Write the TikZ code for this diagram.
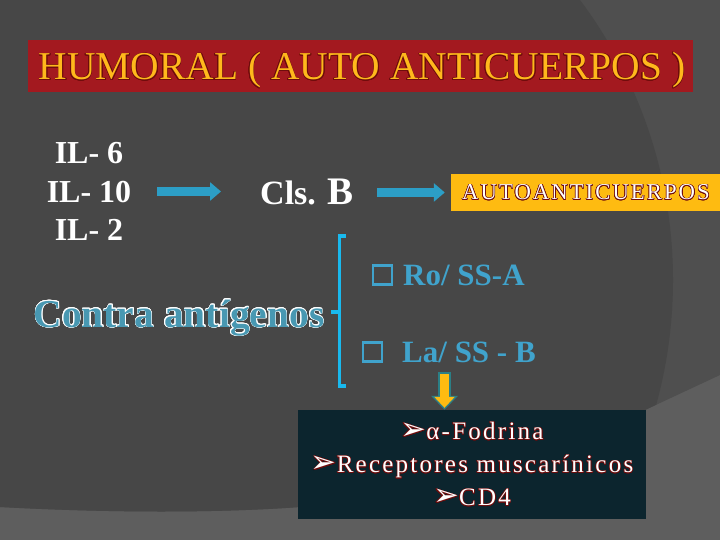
\documentclass[tikz,border=0pt]{standalone}
\usepackage{fontspec}
\setmainfont{Liberation Serif}
\newfontfamily\simbolos{DejaVu Sans}
\usepackage{contour}
\usetikzlibrary{positioning}
\usetikzlibrary{arrows.meta}
\definecolor{fondo}{RGB}{71,71,71}
\definecolor{fondomed}{RGB}{79,79,79}
\definecolor{fondoclaro}{RGB}{94,94,94}
\definecolor{rojotit}{RGB}{163,25,31}
\definecolor{naranja}{RGB}{255,184,28}
\definecolor{granate}{RGB}{110,12,12}
\definecolor{ambar}{RGB}{254,187,17}
\definecolor{azulflecha}{RGB}{44,158,198}
\definecolor{cian}{RGB}{25,185,238}
\definecolor{azulss}{RGB}{64,163,204}
\definecolor{turquesa}{RGB}{72,152,178}
\definecolor{verdeazul}{RGB}{43,127,134}
\definecolor{cajaosc}{RGB}{12,37,46}
\contourlength{0.6pt}
\newcommand{\contorno}[1]{\contour{granate}{#1}}
\newcommand{\vineta}{{\simbolos\fontsize{31}{33}\selectfont ➢}}
\tikzset{
    titulobox/.style = {rectangle, fill=rojotit, minimum width=665pt, minimum height=52pt, inner sep=0pt},
    titulotxt/.style = {text=naranja, inner sep=0pt, font=\fontsize{39.5}{39.5}\selectfont},
    iltxt/.style = {text=white, align=center, inner sep=0pt, font=\fontsize{32}{38.5}\selectfont\bfseries},
    clstxt/.style = {text=white, inner sep=0pt, font=\fontsize{34}{34}\selectfont\bfseries},
    autobox/.style = {rectangle, fill=ambar, minimum width=270pt, minimum height=37pt, inner sep=0pt, text=white,
        font=\fontsize{22.7}{22.7}\selectfont\addfontfeature{LetterSpace=9}},
    contra/.style = {text=turquesa, inner sep=0pt, font=\fontsize{39.5}{39.5}\selectfont\bfseries},
    sstxt/.style = {text=azulss, inner sep=0pt, font=\fontsize{31}{31}\selectfont\bfseries},
    casilla/.style = {rectangle, draw=azulss, line width=2.5pt, minimum size=19pt, inner sep=0pt},
    lista/.style = {rectangle, fill=cajaosc, minimum width=348pt, minimum height=109pt, inner sep=0pt, text=white,
        align=center, font=\fontsize{25}{33}\selectfont\addfontfeature{LetterSpace=9}},
    flecha/.style = {-{Triangle[length=11pt,width=18pt]}, line width=9pt, draw=azulflecha},
    flechaborde/.style = {-{Triangle[length=14pt,width=26pt]}, line width=13pt, draw=verdeazul},
    flechaam/.style = {-{Triangle[length=11pt,width=20pt]}, line width=9pt, draw=ambar, shorten <=2pt, shorten >=2pt},
    llave/.style = {draw=cian, line width=3.5pt}
}
\begin{document}
\begin{tikzpicture}[x=1pt,y=-1pt]
\useasboundingbox (0,0) rectangle (720,540);
%
\fill[fondoclaro] (0,0) rectangle (720,540);
\fill[fondomed] (0,0) -- (720,0) -- (720,375) -- (645,410) -- (300,507) .. controls (220,513) and (110,513) .. (0,507) -- cycle;
\begin{scope}
\clip (205,280) circle (468pt);
\fill[fondo] (0,0) -- (720,0) -- (720,375) -- (645,410) -- (300,507) .. controls (220,513) and (110,513) .. (0,507) -- cycle;
\end{scope}
%
\node[titulobox] (tit) at (360.5,66) {};
\node[titulotxt, anchor=base] (tittxt) at (362,80) {\contorno{HUMORAL ( AUTO ANTICUERPOS )}};
%
\node[iltxt] (il) at (89,191.5) {IL- 6\\IL- 10\\IL- 2};
\node[clstxt, anchor=base west] (cls) at (260,205) {Cls.\hspace{12pt}{\fontsize{39}{39}\selectfont B}};
\node[autobox] (auto) at (586,192.5) {\contorno{AUTOANTICUERPOS}};
\node[contra, anchor=base] (contra) at (179,327) {\contourlength{0.45pt}\contour{white}{Contra antígenos}};
\node[sstxt, anchor=base west] (ro) at (403,285) {Ro/ SS-A};
\node[casilla, left=10pt of ro] (c1) {};
\node[sstxt, anchor=base west] (la) at (402,362) {La/ SS - B};
\node[casilla, left=19pt of la] (c2) {};
\node[lista] (lista) at (472,464.5) {\contorno{\vineta α-Fodrina}\\
    \contorno{\vineta Receptores muscarínicos}\\
    \contorno{\vineta CD4}};
%
\draw[flecha, shorten <=26pt, shorten >=39pt] (il.east) -- (il.east -| cls.west);
\draw[flecha, shorten <=23pt, shorten >=6pt] (cls.east) -- (cls.east -| auto.west);
\draw[llave] (346,236) -- (339.5,236) -- (339.5,386) -- (346,386);
\draw[llave] (339.5,312) -- (331,312);
\coordinate (am) at (444.5,372);
\draw[flechaborde] (am) -- (am |- lista.north);
\draw[flechaam] (am) -- (am |- lista.north);
\end{tikzpicture}
\end{document}
